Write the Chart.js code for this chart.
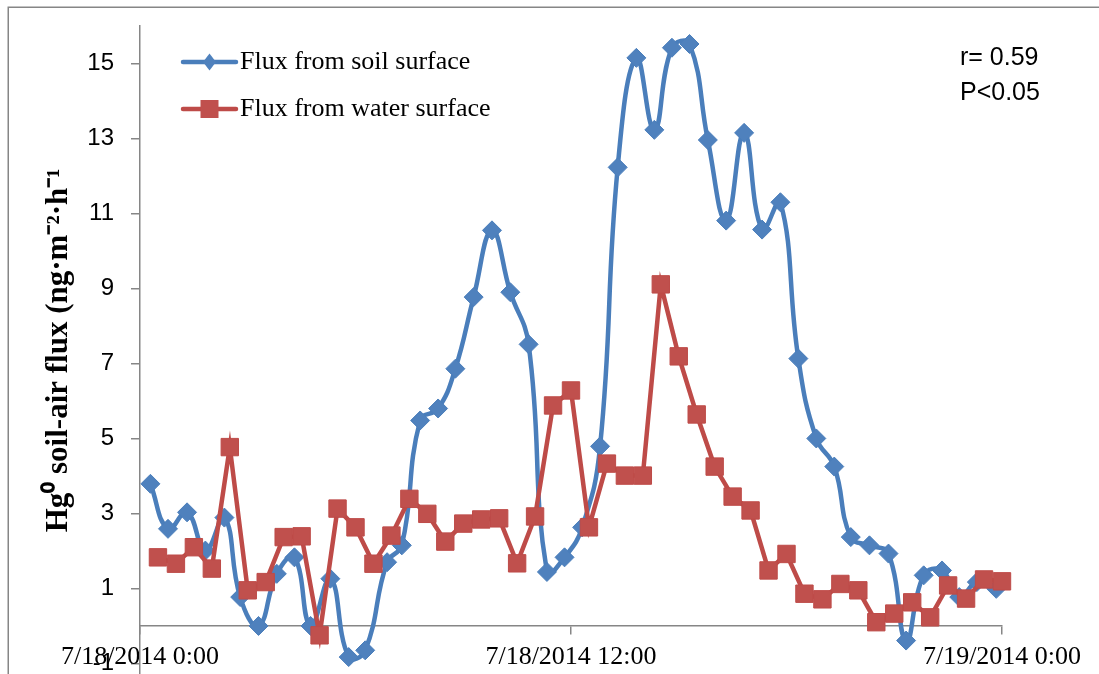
<!DOCTYPE html>
<html>
<head>
<meta charset="utf-8">
<script src="https://cdn.jsdelivr.net/npm/chart.js@4.4.1/dist/chart.umd.min.js"></script>
<style>
  html, body { margin: 0; padding: 0; background: #fff; overflow: hidden; }
  #wrap { width: 1099px; height: 674px; overflow: hidden; }
</style>
</head>
<body>
<div id="wrap"><canvas id="fluxChart" width="1099" height="688"></canvas></div>
<script>
// Hg0 flux, 18-19 July 2014. Hours counted from 7/18/2014 0:00.
const soilHours = [0.29, 0.78, 1.31, 1.82, 2.35, 2.79, 3.30, 3.81, 4.30, 4.75, 5.30, 5.81,
    6.27, 6.88, 7.29, 7.80, 8.30, 8.78, 9.29, 9.80, 10.31, 10.82, 11.33, 11.82,
    12.31, 12.81, 13.30, 13.82, 14.32, 14.81, 15.30, 15.81, 16.32, 16.82, 17.32, 17.83,
    18.33, 18.83, 19.33, 19.79, 20.31, 20.84, 21.33, 21.82, 22.33, 22.81, 23.30, 23.84];
const soilFlux = [3.79, 2.59, 3.03, 2.01, 2.89, 0.77, 0.00, 1.39, 1.83, 0.00, 1.26, -0.83,
    -0.65, 1.70, 2.15, 5.48, 5.80, 6.86, 8.77, 10.55, 8.90, 7.51, 1.44, 1.83,
    2.63, 4.79, 12.23, 15.15, 13.23, 15.42, 15.52, 12.96, 10.81, 13.15, 10.57, 11.30,
    7.13, 5.00, 4.25, 2.37, 2.15, 1.93, -0.39, 1.35, 1.48, 0.77, 1.17, 0.99];

const waterHours = [0.5, 1.0, 1.5, 2.0, 2.5, 3.0, 3.5, 4.0, 4.5, 5.0, 5.5, 6.0,
    6.5, 7.0, 7.5, 8.0, 8.5, 9.0, 9.5, 10.0, 10.5, 11.0, 11.5, 12.0,
    12.5, 13.0, 13.5, 14.0, 14.5, 15.0, 15.5, 16.0, 16.5, 17.0, 17.5, 18.0,
    18.5, 19.0, 19.5, 20.0, 20.5, 21.0, 21.5, 22.0, 22.5, 23.0, 23.5, 24.0];
const waterFlux = [1.83, 1.66, 2.10, 1.53, 4.77, 0.95, 1.17, 2.37, 2.39, -0.25, 3.13, 2.63,
    1.66, 2.41, 3.39, 2.99, 2.25, 2.73, 2.84, 2.87, 1.67, 2.92, 5.88, 6.28,
    2.63, 4.33, 4.01, 4.01, 9.11, 7.19, 5.64, 4.25, 3.45, 3.08, 1.48, 1.92,
    0.86, 0.71, 1.12, 0.95, 0.10, 0.33, 0.63, 0.23, 1.08, 0.73, 1.24, 1.19];

const seriesNames = ['Flux from soil surface', 'Flux from water surface'];
const yTickValues = [-1, 1, 3, 5, 7, 9, 11, 13, 15];
const xTickHours = [0, 12, 24];
const xTickLabels = ['7/18/2014 0:00', '7/18/2014 12:00', '7/19/2014 0:00'];
const statLines = ['r= 0.59', 'P<0.05'];
const yTitle = 'Hg\u2070 soil-air flux (ng\u00b7m\u207b\u00b2\u00b7h\u207b\u00b9';

const AXIS_GREY = '#868686';

// frame, legend box and the r / P note are drawn by hand
const decorPlugin = {
    id: 'decor',
    beforeDraw(chart) {
        const ctx = chart.ctx;
        ctx.save();
        ctx.strokeStyle = AXIS_GREY;
        ctx.lineWidth = 1.5;
        ctx.strokeRect(8.25, 7.25, 1300, 1000);
        ctx.restore();
    },
    afterDraw(chart) {
        const ctx = chart.ctx;
        ctx.save();
        chart.data.datasets.forEach((ds, i) => {
            const y = 62 + i * 47;
            ctx.strokeStyle = ds.borderColor;
            ctx.lineWidth = 4.5;
            ctx.lineCap = 'round';
            ctx.beginPath();
            ctx.moveTo(183, y);
            ctx.lineTo(236, y);
            ctx.stroke();
            ctx.fillStyle = ds.pointBackgroundColor;
            ctx.beginPath();
            if (ds.pointStyle === 'rectRot') {
                ctx.moveTo(209.5, y - 8.5);
                ctx.lineTo(216, y);
                ctx.lineTo(209.5, y + 8.5);
                ctx.lineTo(203, y);
                ctx.closePath();
            } else {
                ctx.rect(200.5, y - 9, 18, 18);
            }
            ctx.fill();

            ctx.fillStyle = '#000';
            ctx.font = '26px "Liberation Serif"';
            ctx.textBaseline = 'middle';
            ctx.textAlign = 'left';
            ctx.fillText(ds.label, 240, y);
        });

        ctx.font = '25px "Liberation Sans"';
        ctx.textBaseline = 'alphabetic';
        statLines.forEach((s, i) => ctx.fillText(s, 960, 65 + i * 35));
        ctx.restore();
    }
};

const ctx = document.getElementById('fluxChart').getContext('2d');

new Chart(ctx, {
    type: 'line',
    data: {
        datasets: [{
            label: seriesNames[0],
            data: soilHours.map((h, i) => ({ x: h, y: soilFlux[i] })),
            borderColor: '#4a7ebb',
            backgroundColor: '#4f81bd',
            pointBackgroundColor: '#4f81bd',
            pointBorderColor: '#4a7ebb',
            pointStyle: 'rectRot',
            pointRadius: 9.5,
            pointBorderWidth: 1,
            borderWidth: 4.5,
            tension: 0.45,
            clip: false,
            order: 1
        }, {
            label: seriesNames[1],
            data: waterHours.map((h, i) => ({ x: h, y: waterFlux[i] })),
            borderColor: '#be4b48',
            backgroundColor: '#c0504d',
            pointBackgroundColor: '#c0504d',
            pointBorderColor: '#be4b48',
            pointStyle: 'rect',
            pointRadius: 12.3,
            pointBorderWidth: 1,
            borderWidth: 4.5,
            tension: 0,
            clip: false,
            order: 0
        }]
    },
    options: {
        responsive: false,
        animation: false,
        events: [],
        layout: {
            padding: { left: 0, top: 26, right: 97, bottom: 0 }
        },
        plugins: {
            legend: { display: false },
            tooltip: { enabled: false }
        },
        scales: {
            x: {
                type: 'linear',
                min: 0,
                max: 24,
                position: { y: 0 },
                afterBuildTicks: (scale) => {
                    scale.ticks = xTickHours.map(v => ({ value: v }));
                },
                ticks: {
                    callback: (v) => xTickLabels[xTickHours.indexOf(v)],
                    font: { family: 'Liberation Serif', size: 26 },
                    color: '#000',
                    padding: 8,
                    maxRotation: 0,
                    autoSkip: false
                },
                grid: {
                    drawOnChartArea: false,
                    drawTicks: true,
                    tickLength: 8,
                    color: AXIS_GREY,
                    lineWidth: 1.5
                },
                border: { color: AXIS_GREY, width: 1.5 }
            },
            y: {
                type: 'linear',
                min: -1.3,
                max: 16,
                afterBuildTicks: (scale) => {
                    scale.ticks = yTickValues.map(v => ({ value: v }));
                },
                afterFit: (scale) => {
                    scale.width = 140;
                    scale.paddingTop = 0;
                    scale.paddingBottom = 0;
                },
                title: {
                    display: true,
                    text: yTitle,
                    font: { family: 'Liberation Serif', size: 31, weight: 'bold' },
                    color: '#000',
                    padding: { top: 40, bottom: 0 }
                },
                ticks: {
                    font: { family: 'Liberation Sans', size: 24 },
                    color: '#000',
                    padding: 17
                },
                grid: {
                    drawOnChartArea: false,
                    drawTicks: true,
                    tickLength: 9,
                    color: AXIS_GREY,
                    lineWidth: 1.5
                },
                border: { color: AXIS_GREY, width: 1.5 }
            }
        }
    },
    plugins: [decorPlugin]
});
</script>
</body>
</html>
